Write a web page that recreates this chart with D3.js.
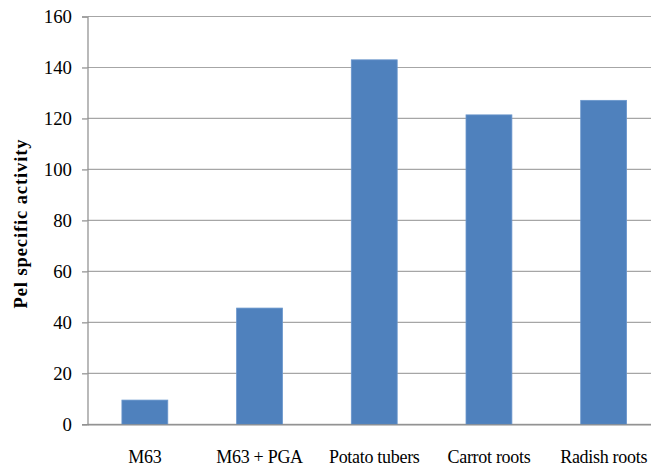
<!DOCTYPE html>
<html>
<head>
<meta charset="utf-8">
<script src="https://cdn.jsdelivr.net/npm/d3@7"></script>
<style>
  html, body { margin: 0; padding: 0; background: #ffffff; }
  svg { display: block; }
  text { font-family: "Liberation Serif", "Times New Roman", serif; fill: #000; }
</style>
</head>
<body>
<svg id="chart" width="651" height="468"></svg>
<script>
// Pel specific activity by source
const categories = ["M63", "M63 + PGA", "Potato tubers", "Carrot roots", "Radish roots"];
const activity = [9.5, 45.6, 143, 121.4, 127.1];
const yTicks = [0, 20, 40, 60, 80, 100, 120, 140, 160];
const yTitle = "Pel specific activity";

const svg = d3.select("#chart");
const plot = { left: 87.5, right: 661, top: 16.5, bottom: 424.3 };

const x = d3.scaleBand()
  .domain(categories)
  .range([plot.left, plot.right])
  .paddingInner(0.6)
  .paddingOuter(0.3);

const y = d3.scaleLinear()
  .domain([0, 160])
  .range([plot.bottom, plot.top]);

// horizontal gridlines
svg.append("g")
  .selectAll("line")
  .data(yTicks)
  .join("line")
  .attr("x1", plot.left)
  .attr("x2", plot.right)
  .attr("y1", d => y(d))
  .attr("y2", d => y(d))
  .attr("stroke", "#a6a6a6")
  .attr("stroke-width", 1.2);

// bars
svg.append("g")
  .selectAll("rect")
  .data(categories)
  .join("rect")
  .attr("x", d => x(d))
  .attr("width", x.bandwidth())
  .attr("y", (d, i) => y(activity[i]))
  .attr("height", (d, i) => y(0) - y(activity[i]))
  .attr("fill", "#4f81bd")
  .attr("stroke", "#6a96cc")
  .attr("stroke-width", 0.8);

// y axis
const yAxis = svg.append("g")
  .attr("transform", `translate(${plot.left},0)`)
  .call(d3.axisLeft(y).tickValues(yTicks).tickSize(5.5).tickPadding(10).tickFormat(d3.format("d")));
yAxis.select(".domain").attr("stroke", "#8c8c8c").attr("stroke-width", 1.2);
yAxis.selectAll(".tick line").attr("stroke", "#8c8c8c").attr("stroke-width", 1.2);
yAxis.selectAll(".tick text")
  .attr("font-size", 18.8)
  .attr("font-family", "Liberation Serif, serif")
  .attr("fill", "#000");

// x axis baseline + category labels
const xAxis = svg.append("g")
  .attr("transform", `translate(0,${plot.bottom})`)
  .call(d3.axisBottom(x).tickSize(0).tickPadding(26));
xAxis.select(".domain").attr("stroke", "#8c8c8c").attr("stroke-width", 1.2);
xAxis.selectAll(".tick text")
  .attr("font-size", 18)
  .attr("font-family", "Liberation Serif, serif")
  .attr("fill", "#000")
  .attr("letter-spacing", -0.3);

// y axis title
svg.append("text")
  .attr("transform", `translate(27,223.5) rotate(-90)`)
  .attr("text-anchor", "middle")
  .attr("font-size", 18.5)
  .attr("font-weight", "bold")
  .attr("letter-spacing", 0.9)
  .text(yTitle);
</script>
</body>
</html>
